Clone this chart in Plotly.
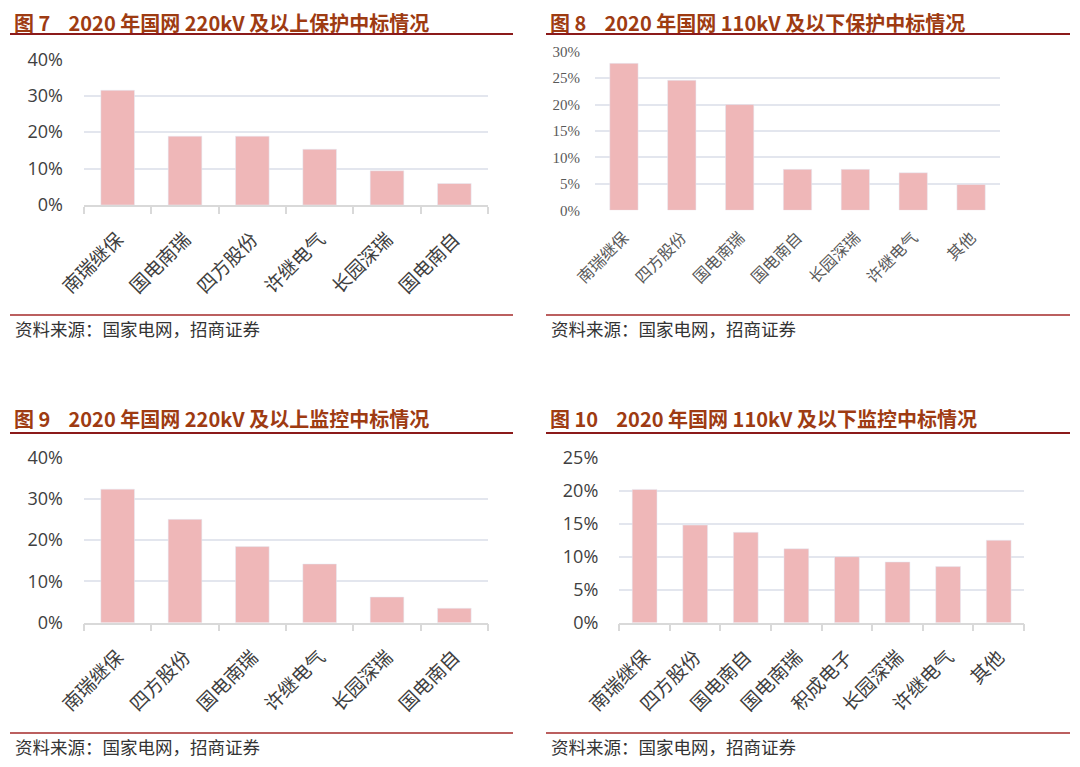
import plotly.graph_objects as go

W, H = 1080, 767

# ---- data ----
cats7 = ["南瑞继保", "国电南瑞", "四方股份", "许继电气", "长园深瑞", "国电南自"]
vals7 = [0.315, 0.189, 0.189, 0.153, 0.094, 0.059]

cats8 = ["南瑞继保", "四方股份", "国电南瑞", "国电南自", "长园深瑞", "许继电气", "其他"]
vals8 = [0.278, 0.246, 0.200, 0.0775, 0.0775, 0.071, 0.049]

cats9 = ["南瑞继保", "四方股份", "国电南瑞", "许继电气", "长园深瑞", "国电南自"]
vals9 = [0.323, 0.250, 0.184, 0.142, 0.062, 0.035]

cats10 = ["南瑞继保", "四方股份", "国电南自", "国电南瑞", "积成电子", "长园深瑞", "许继电气", "其他"]
vals10 = [0.202, 0.148, 0.137, 0.112, 0.100, 0.092, 0.085, 0.125]

titles = [
    "图 7&nbsp;&nbsp;&nbsp;&nbsp;2020 年国网 220kV 及以上保护中标情况",
    "图 8&nbsp;&nbsp;&nbsp;&nbsp;2020 年国网 110kV 及以下保护中标情况",
    "图 9&nbsp;&nbsp;&nbsp;&nbsp;2020 年国网 220kV 及以上监控中标情况",
    "图 10&nbsp;&nbsp;&nbsp;&nbsp;2020 年国网 110kV 及以下监控中标情况",
]
source = "资料来源：国家电网，招商证券"

BAR = "#efb7b8"
GRID = "#e3e6ee"
AXL = "#d9d9d9"
TITLE_C = "#9e3b12"
LINE_C = "#8b1a1a"
SANS = "Noto Sans CJK SC, Open Sans, sans-serif"
SERIF = "Liberation Serif, Noto Sans CJK SC, serif"


def px(x):
    return x / W


def py(y):
    return 1 - y / H


fig = go.Figure()

panels = [
    # cats, vals, xdom(px), ydom(px: bottom, top), range, dtick, gap, style
    (cats7, vals7, (84, 488), (205, 59.3), 0.4, 0.1, 0.5, "sans"),
    (cats8, vals8, (595, 1000), (210.3, 51.7), 0.3, 0.05, 0.51, "serif"),
    (cats9, vals9, (84, 488), (622.7, 457.3), 0.4, 0.1, 0.5, "sans"),
    (cats10, vals10, (619.3, 1024), (622.7, 457.7), 0.25, 0.05, 0.51, "sans"),
]

for i, (c, v, xd, yd, rmax, dt, gap, style) in enumerate(panels):
    n = "" if i == 0 else str(i + 1)
    fig.add_trace(go.Bar(x=c, y=v, marker_color=BAR, xaxis="x" + n, yaxis="y" + n,
                         width=1 - gap, showlegend=False, hoverinfo="x+y"))
    xa = dict(domain=[px(xd[0]), px(xd[1])], anchor="y" + n, type="category",
              tickangle=-45, showgrid=False, zeroline=False, fixedrange=True,
              automargin=False)
    ya = dict(domain=[py(yd[0]), py(yd[1])], anchor="x" + n, range=[0, rmax], dtick=dt,
              tickformat=".0%", showgrid=True, gridcolor=GRID, gridwidth=1.5,
              zeroline=False, showline=False, ticks="", fixedrange=True,
              automargin=False)
    if style == "sans":
        xa.update(showline=True, linecolor=AXL, linewidth=1.5, ticks="outside",
                  tickson="boundaries", ticklen=7, tickcolor=AXL, tickwidth=1.5,
                  ticklabelstandoff=14,
                  tickfont=dict(family=SANS, size=19, color="#404040"))
        ya.update(tickfont=dict(family="Open Sans, " + SANS, size=18, color="#404040"),
                  ticklabelstandoff=20)
    else:
        xa.update(showline=False, ticks="", ticklabelstandoff=14,
                  tickfont=dict(family=SANS, size=16, color="#595959"))
        ya.update(tickfont=dict(family=SERIF, size=15, color="#595959"),
                  ticklabelstandoff=14)
    fig.layout["xaxis" + n] = xa
    fig.layout["yaxis" + n] = ya

annotations = []
shapes = []
title_pos = [(12, 22), (548, 22), (12, 418), (548, 418)]
line_x = [(10, 513), (546, 1070), (10, 513), (546, 1070)]
title_line_y = [34, 34, 433, 433]
src_line_y = [315, 315, 733, 733]
src_y = [328, 328, 746, 746]
for k in range(4):
    annotations.append(dict(x=px(title_pos[k][0]), y=py(title_pos[k][1]), xref="paper", yref="paper",
                             xanchor="left", yanchor="middle", showarrow=False, text="<b>" + titles[k] + "</b>",
                             font=dict(family=SANS, size=20, color=TITLE_C)))
    annotations.append(dict(x=px(line_x[k][0] + 3), y=py(src_y[k]), xref="paper", yref="paper",
                            xanchor="left", yanchor="middle", showarrow=False, text=source,
                            font=dict(family=SANS, size=17.5, color="#333333")))
    shapes.append(dict(type="line", xref="paper", yref="paper", x0=px(line_x[k][0]), x1=px(line_x[k][1]),
                       y0=py(title_line_y[k]), y1=py(title_line_y[k]), line=dict(color=LINE_C, width=2)))
    shapes.append(dict(type="line", xref="paper", yref="paper", x0=px(line_x[k][0]), x1=px(line_x[k][1]),
                       y0=py(src_line_y[k]), y1=py(src_line_y[k]), line=dict(color="#a52a2a", width=1.5)))

fig.update_layout(width=W, height=H, margin=dict(l=0, r=0, t=0, b=0, autoexpand=False),
                  paper_bgcolor="white", plot_bgcolor="white",
                  annotations=annotations, shapes=shapes)

fig.write_html("out.html", config={"displayModeBar": False},
               post_script="document.body.style.margin='0';document.body.style.overflow='hidden';")
